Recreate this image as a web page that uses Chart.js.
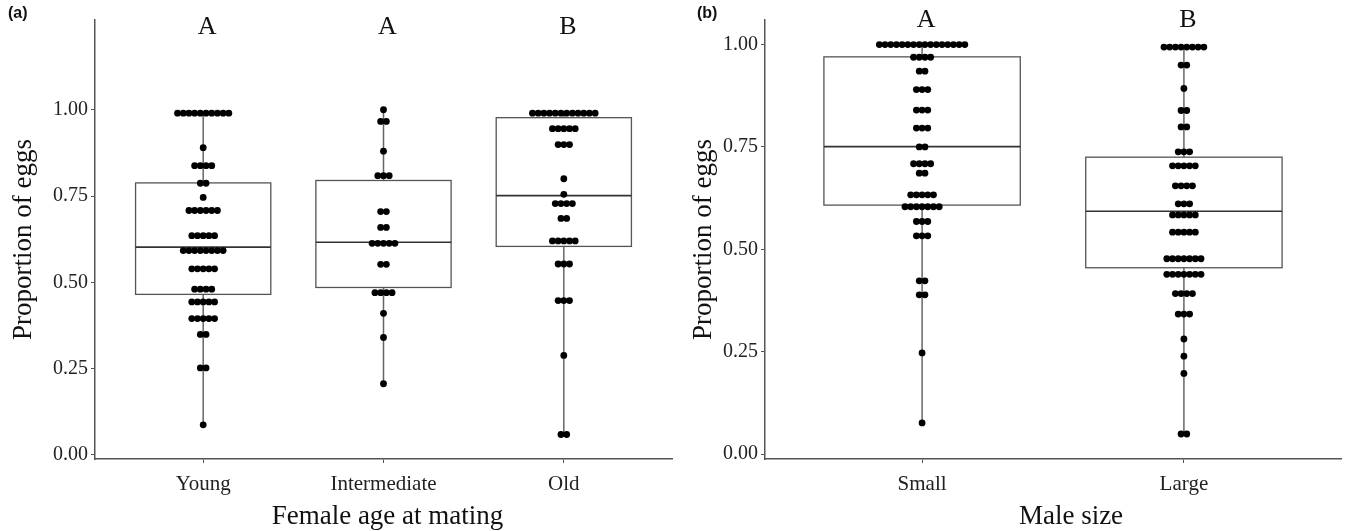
<!DOCTYPE html>
<html>
<head>
<meta charset="utf-8">
<title>Proportion of eggs</title>
<script src="https://cdn.jsdelivr.net/npm/chart.js@4.4.1/dist/chart.umd.min.js"></script>
<style>
  html, body { margin: 0; padding: 0; background: #fff; }
  #wrap { position: relative; width: 1346px; height: 531px; overflow: hidden; }
  .panel { position: absolute; top: 0; height: 531px; }
  #panelA { left: 0; width: 680px; }
  #panelB { left: 680px; width: 666px; }
  .tag { position: absolute; top: 4px; font: bold 16px "Liberation Sans", Arial, sans-serif; color: #111; }
</style>
</head>
<body>
<div id="wrap">
  <div class="panel" id="panelA"><canvas id="chartA"></canvas></div>
  <div class="panel" id="panelB"><canvas id="chartB"></canvas></div>
  <div class="tag" style="left:8px">(a)</div>
  <div class="tag" style="left:697px">(b)</div>
</div>
<script>
// ---- panel (a): female age at mating ----
const ageCategories = ['Young', 'Intermediate', 'Old'];
const ageLetters = ['A', 'A', 'B'];

// each row of stacked dots: value and number of dots in that row
const youngValues = [0.99, 0.89, 0.838, 0.787, 0.746, 0.708, 0.635, 0.592, 0.539, 0.48, 0.443, 0.395, 0.349, 0.252, 0.087];
const youngCounts = [10, 1, 4, 2, 1, 6, 5, 8, 5, 4, 5, 5, 2, 2, 1];
const interValues = [1.0, 0.966, 0.88, 0.809, 0.705, 0.659, 0.613, 0.552, 0.47, 0.41, 0.34, 0.206];
const interCounts = [1, 2, 1, 3, 2, 2, 5, 2, 4, 1, 1, 1];
const oldValues = [0.99, 0.945, 0.899, 0.80, 0.755, 0.728, 0.685, 0.62, 0.553, 0.447, 0.288, 0.059];
const oldCounts = [12, 5, 3, 1, 1, 4, 2, 5, 3, 3, 1, 2];

// box summaries per category
const ageLow = [0.087, 0.206, 0.059];
const ageQ1 = [0.465, 0.485, 0.604];
const ageMedian = [0.602, 0.616, 0.751];
const ageQ3 = [0.788, 0.795, 0.977];
const ageHigh = [0.99, 1.0, 0.99];

// ---- panel (b): male size ----
const sizeCategories = ['Small', 'Large'];
const sizeLetters = ['A', 'B'];

const smallValues = [1.0, 0.969, 0.935, 0.89, 0.84, 0.796, 0.75, 0.709, 0.686, 0.633, 0.604, 0.568, 0.533, 0.423, 0.389, 0.247, 0.076];
const smallCounts = [16, 4, 2, 3, 3, 3, 2, 4, 2, 5, 7, 3, 3, 2, 2, 1, 1];
const largeValues = [0.994, 0.95, 0.893, 0.839, 0.799, 0.738, 0.704, 0.655, 0.611, 0.584, 0.542, 0.477, 0.439, 0.392, 0.342, 0.281, 0.239, 0.197, 0.049];
const largeCounts = [8, 2, 1, 2, 2, 3, 5, 4, 3, 5, 5, 7, 7, 4, 3, 1, 1, 1, 2];

const sizeLow = [0.076, 0.049];
const sizeQ1 = [0.608, 0.455];
const sizeMedian = [0.751, 0.593];
const sizeQ3 = [0.970, 0.725];
const sizeHigh = [1.0, 0.994];

const yTicks = [0, 0.25, 0.5, 0.75, 1.0];

const SERIF = '"Liberation Serif", "Times New Roman", serif';
const DOT_GAP = 5.7;     // horizontal distance between stacked dots, px
const BOX_HALF = 0.375;  // half box width in category units

// spread each row of dots around the category centre
function stackDots(center, values, counts, step) {
    const pts = [];
    values.forEach((v, i) => {
        const n = counts[i];
        for (let k = 0; k < n; k++) {
            pts.push({ x: center + (k - (n - 1) / 2) * step, y: v });
        }
    });
    return pts;
}

// whiskers, boxes and medians, drawn under the dots
function boxPlugin(low, q1, med, q3, high) {
    return {
        id: 'boxes',
        beforeDatasetsDraw(chart) {
            const { ctx, scales: { x, y } } = chart;
            ctx.save();
            low.forEach((lo, i) => {
                const c = i + 1;
                const cx = x.getPixelForValue(c);
                const xl = x.getPixelForValue(c - BOX_HALF);
                const xr = x.getPixelForValue(c + BOX_HALF);
                // whisker
                ctx.strokeStyle = '#666';
                ctx.lineWidth = 1.5;
                ctx.beginPath();
                ctx.moveTo(cx, y.getPixelForValue(lo));
                ctx.lineTo(cx, y.getPixelForValue(high[i]));
                ctx.stroke();
                // box
                const yt = y.getPixelForValue(q3[i]);
                const yb = y.getPixelForValue(q1[i]);
                ctx.fillStyle = '#fff';
                ctx.fillRect(xl, yt, xr - xl, yb - yt);
                ctx.strokeStyle = '#555';
                ctx.lineWidth = 1.3;
                ctx.strokeRect(xl, yt, xr - xl, yb - yt);
                // median
                const ym = y.getPixelForValue(med[i]);
                ctx.strokeStyle = '#333';
                ctx.lineWidth = 1.7;
                ctx.beginPath();
                ctx.moveTo(xl, ym);
                ctx.lineTo(xr, ym);
                ctx.stroke();
            });
            ctx.restore();
        }
    };
}

// significance letters above each group, and the x axis title
function labelPlugin(letters, yValue, xTitle, titleShift) {
    return {
        id: 'labels',
        afterDraw(chart) {
            const { ctx, chartArea, scales: { x, y } } = chart;
            ctx.save();
            ctx.fillStyle = '#111';
            ctx.textAlign = 'center';
            ctx.textBaseline = 'middle';
            ctx.font = '26px ' + SERIF;
            letters.forEach((l, i) => {
                ctx.fillText(l, x.getPixelForValue(i + 1) + 4, y.getPixelForValue(yValue));
            });
            ctx.font = '27px ' + SERIF;
            ctx.fillText(xTitle, (chartArea.left + chartArea.right) / 2 + titleShift, x.bottom - 14);
            ctx.restore();
        }
    };
}

function createPanel(canvasId, p) {
    const canvas = document.getElementById(canvasId);
    const groups = p.groups;

    const datasets = groups.map((g, i) => ({
        label: p.categories[i],
        data: stackDots(i + 1, g.values, g.counts, 0.03),
        backgroundColor: '#000',
        borderWidth: 0,
        pointRadius: 3.4,
        pointHoverRadius: 3.4
    }));

    const chart = new Chart(canvas, {
        type: 'scatter',
        data: { datasets: datasets },
        options: {
            responsive: true,
            maintainAspectRatio: false,
            animation: false,
            layout: { padding: { top: 20, right: p.rightPad, left: 0, bottom: 0 } },
            plugins: {
                legend: { display: false },
                tooltip: { enabled: false }
            },
            scales: {
                x: {
                    type: 'linear',
                    min: 0.4,
                    max: p.categories.length + 0.6,
                    afterBuildTicks: scale => {
                        scale.ticks = p.categories.map((c, i) => ({ value: i + 1 }));
                    },
                    afterFit: scale => { scale.height = 72; },
                    ticks: {
                        callback: v => p.categories[Math.round(v) - 1],
                        font: { family: SERIF, size: 21 },
                        color: '#222',
                        padding: 9,
                        maxRotation: 0
                    },
                    grid: { drawOnChartArea: false, drawTicks: true, tickLength: 4, color: '#555' },
                    border: { display: true, color: '#555', width: 1.5 }
                },
                y: {
                    min: -0.012,
                    max: p.yMax,
                    afterBuildTicks: scale => {
                        scale.ticks = yTicks.map(v => ({ value: v }));
                    },
                    afterFit: scale => { scale.width = p.axisWidth; },
                    ticks: {
                        callback: v => v.toFixed(2),
                        font: { family: SERIF, size: 20 },
                        color: '#222',
                        padding: 3
                    },
                    grid: { drawOnChartArea: false, drawTicks: true, tickLength: 4, color: '#555' },
                    border: { display: true, color: '#555', width: 1.5 },
                    title: {
                        display: true,
                        text: 'Proportion of eggs',
                        font: { family: SERIF, size: 27, lineHeight: 1.0 },
                        color: '#111',
                        padding: { top: p.yTitlePad, bottom: 0 }
                    }
                }
            }
        },
        plugins: [
            boxPlugin(p.low, p.q1, p.median, p.q3, p.high),
            labelPlugin(p.letters, p.letterY, p.xTitle, p.titleShift)
        ]
    });

    // restack the dots now that the pixel size of one category unit is known
    const x = chart.scales.x;
    const step = DOT_GAP / (x.getPixelForValue(1) - x.getPixelForValue(0));
    groups.forEach((g, i) => {
        chart.data.datasets[i].data = stackDots(i + 1, g.values, g.counts, step);
    });
    chart.update('none');
    return chart;
}

createPanel('chartA', {
    categories: ageCategories,
    letters: ageLetters,
    groups: [
        { values: youngValues, counts: youngCounts },
        { values: interValues, counts: interCounts },
        { values: oldValues, counts: oldCounts }
    ],
    low: ageLow, q1: ageQ1, median: ageMedian, q3: ageQ3, high: ageHigh,
    xTitle: 'Female age at mating',
    titleShift: 4,
    yMax: 1.26,
    letterY: 1.24,
    axisWidth: 95,
    yTitlePad: 10,
    rightPad: 8
});

createPanel('chartB', {
    categories: sizeCategories,
    letters: sizeLetters,
    groups: [
        { values: smallValues, counts: smallCounts },
        { values: largeValues, counts: largeCounts }
    ],
    low: sizeLow, q1: sizeQ1, median: sizeMedian, q3: sizeQ3, high: sizeHigh,
    xTitle: 'Male size',
    titleShift: 18,
    yMax: 1.06,
    letterY: 1.06,
    axisWidth: 85,
    yTitlePad: 10,
    rightPad: 5
});
</script>
</body>
</html>
